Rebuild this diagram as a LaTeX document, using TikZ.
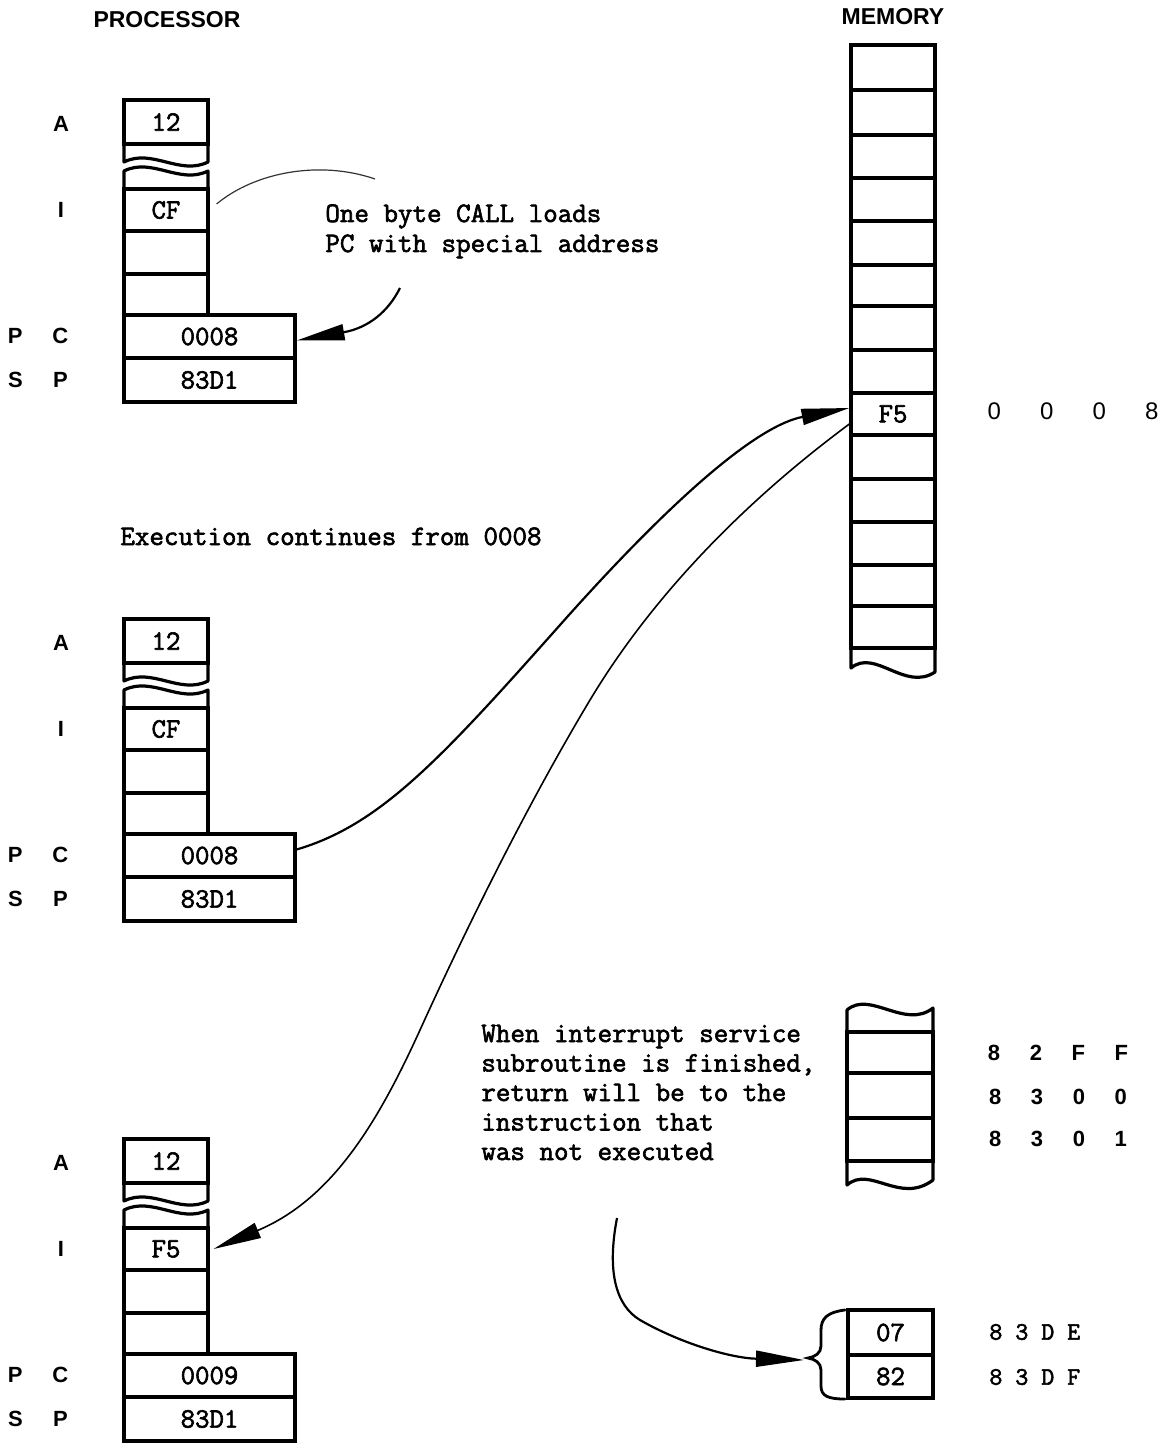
\documentclass[tikz,border=0pt]{standalone}
\usepackage{fontspec}
\usetikzlibrary{arrows.meta}
\newfontfamily\tw{Latin Modern Mono}[FakeBold=2.2]
\newfontfamily\sansf{Liberation Sans}
\newcommand{\cellnode}[6]{\node[cell, minimum width={(#4-#2)*0.5pt}, minimum height={(#5-#3)*0.5pt}] (#1) at ({(#2+#4)/2},{(#3+#5)/2}) {#6};}
\newcommand{\procblock}[6]{%
\begin{scope}[shift={(0,#2)}]
 \cellnode{#1A}{124}{0}{208}{44}{#3}
 \draw[box] (124,44) -- (124,62) .. controls (152,48) and (180,76) .. (208,62) -- (208,44);
 \draw[box] (124,89) -- (124,71) .. controls (152,57) and (180,85) .. (208,71) -- (208,89);
 \cellnode{#1I}{124}{89}{208}{131}{#4}
 \cellnode{#1Ea}{124}{131}{208}{174}{}
 \cellnode{#1Eb}{124}{174}{208}{215}{}
 \cellnode{#1PC}{124}{215}{295}{258}{#5}
 \cellnode{#1SP}{124}{258}{295}{302}{#6}
 \node[lab] (#1lA) at (61,24) {A};
 \node[lab] (#1lI) at (61,110) {I};
 \node[lab] (#1lPC) at (38,236) {{\spaceskip=14.9pt P C}};
 \node[lab] (#1lSP) at (38,280) {{\spaceskip=15.2pt S P}};
\end{scope}}
\begin{document}
\begin{tikzpicture}[x=0.5pt,y=-0.5pt,
  box/.style={line width=1.6pt, line join=round},
  cell/.style={draw, line width=1.6pt, inner sep=0pt, font=\tw\fontsize{14}{16}\selectfont},
  lab/.style={inner sep=0pt, font=\sansf\bfseries\fontsize{11}{12}\selectfont},
  ttx/.style={inner sep=0pt, anchor=base west, font=\tw\fontsize{14.1}{16}\selectfont},
  title/.style={inner sep=0pt, font=\sansf\bfseries\fontsize{11.5}{13}\selectfont},
  conn/.style={line width=1.1pt, -{Triangle[length=24pt,width=8pt]}},
]
\useasboundingbox (0,0) rectangle (1160,1444);

% titles
\node[title] (tproc) at (167,20) {PROCESSOR};
\node[title] (tmem) at (893,17) {MEMORY};

% processor blocks
\procblock{t}{100}{12}{CF}{0008}{83D1}
\procblock{m}{619}{12}{CF}{0008}{83D1}
\procblock{b}{1139}{12}{F5}{0009}{83D1}

% memory column
\foreach \ya/\yb [count=\k] in {45/90,90/135,135/178,178/221,221/265,265/306,306/350,350/393}
  {\cellnode{mem\k}{851}{\ya}{935}{\yb}{}}
\cellnode{f5}{851}{393}{935}{435}{F5}
\foreach \ya/\yb [count=\k] in {435/479,479/522,522/565,565/606,606/648}
  {\cellnode{memb\k}{851}{\ya}{935}{\yb}{}}
\draw[box] (851,648) -- (851,668) .. controls (875,648) and (905,692) .. (935,672) -- (935,648);

\node[inner sep=0pt, font=\sansf\fontsize{12}{13}\selectfont] (a0008) at (1073,411) {{\spaceskip=19.6pt 0 0 0 8}};

% stack memory
\draw[box] (847,1032) -- (847,1010) .. controls (870,990) and (905,1030) .. (933,1008) -- (933,1032);
\cellnode{sa}{847}{1032}{933}{1073}{}
\cellnode{sb}{847}{1073}{933}{1118}{}
\cellnode{sc}{847}{1118}{933}{1161}{}
\draw[box] (847,1161) -- (847,1185) .. controls (870,1165) and (900,1205) .. (933,1180) -- (933,1161);

\node[inner sep=0pt, font=\sansf\bfseries\fontsize{11}{12}\selectfont] (a82ff) at (1058,1053) {{\spaceskip=14.8pt 8 2 F F}};
\node[inner sep=0pt, font=\sansf\bfseries\fontsize{11}{12}\selectfont] (a8300) at (1058,1097) {{\spaceskip=14.8pt 8 3 0 0}};
\node[inner sep=0pt, font=\sansf\bfseries\fontsize{11}{12}\selectfont] (a8301) at (1058,1139) {{\spaceskip=14.8pt 8 3 0 1}};

% stack cells
\cellnode{s07}{848}{1310}{933}{1355}{07}
\cellnode{s82}{848}{1355}{933}{1398}{82}
\node[inner sep=0pt, anchor=west, font=\tw\fontsize{12.6}{14}\selectfont] (a83de) at (989,1332) {8 3 D E};
\node[inner sep=0pt, anchor=west, font=\tw\fontsize{12.6}{14}\selectfont] (a83df) at (989,1377) {8 3 D F};

% brace
\draw[line width=1.4pt, line cap=round] (845,1310) .. controls (828,1312) and (821,1318) .. (821,1330) -- (821,1346) .. controls (821,1353) and (815,1357) .. (808,1358) .. controls (815,1359) and (821,1363) .. (821,1370) -- (821,1386) .. controls (821,1396) and (828,1399) .. (845,1399);
\coordinate (bracetip) at (804,1360);

% texts
\node[ttx] (call1) at (325,222) {One byte CALL loads};
\node[ttx] (call2) at (325,252) {PC with special address};
\node[ttx] (exec) at (120,545) {Execution continues from 0008};
\node[ttx] (w1) at (481,1042) {When interrupt service};
\node[ttx] (w2) at (481,1071.5) {subroutine is finished,};
\node[ttx] (w3) at (481,1101) {return will be to the};
\node[ttx] (w4) at (481,1130.5) {instruction that};
\node[ttx] (w5) at (481,1160) {was not executed};

% connectors
\coordinate (c1s) at (400,288);
\draw[conn] (c1s) .. controls (388,312) and (368,328) .. ([yshift=-2pt]tPC.east);
\coordinate (c2e) at (375,179);
\draw[line width=0.6pt, black!80] ([xshift=3.5pt,yshift=3pt]tI.east) .. controls (255,172) and (320,160) .. (c2e);
\draw[conn] ([yshift=3pt]mPC.east) .. controls (380,825) and (440,760) .. (560,625) .. controls (680,490) and (760,425) .. ([yshift=3pt]f5.west);
\draw[conn, line width=0.8pt] ([yshift=-5pt]f5.west) .. controls (740,505) and (650,600) .. (590,700) .. controls (530,800) and (470,920) .. (420,1030) .. controls (376,1127) and (330,1200) .. ([xshift=2pt]bI.east);
\coordinate (c5s) at (617,1218);
\draw[conn] (c5s) .. controls (607,1270) and (615,1305) .. (640,1320) .. controls (680,1343) and (730,1358) .. (bracetip);
\end{tikzpicture}
\end{document}
